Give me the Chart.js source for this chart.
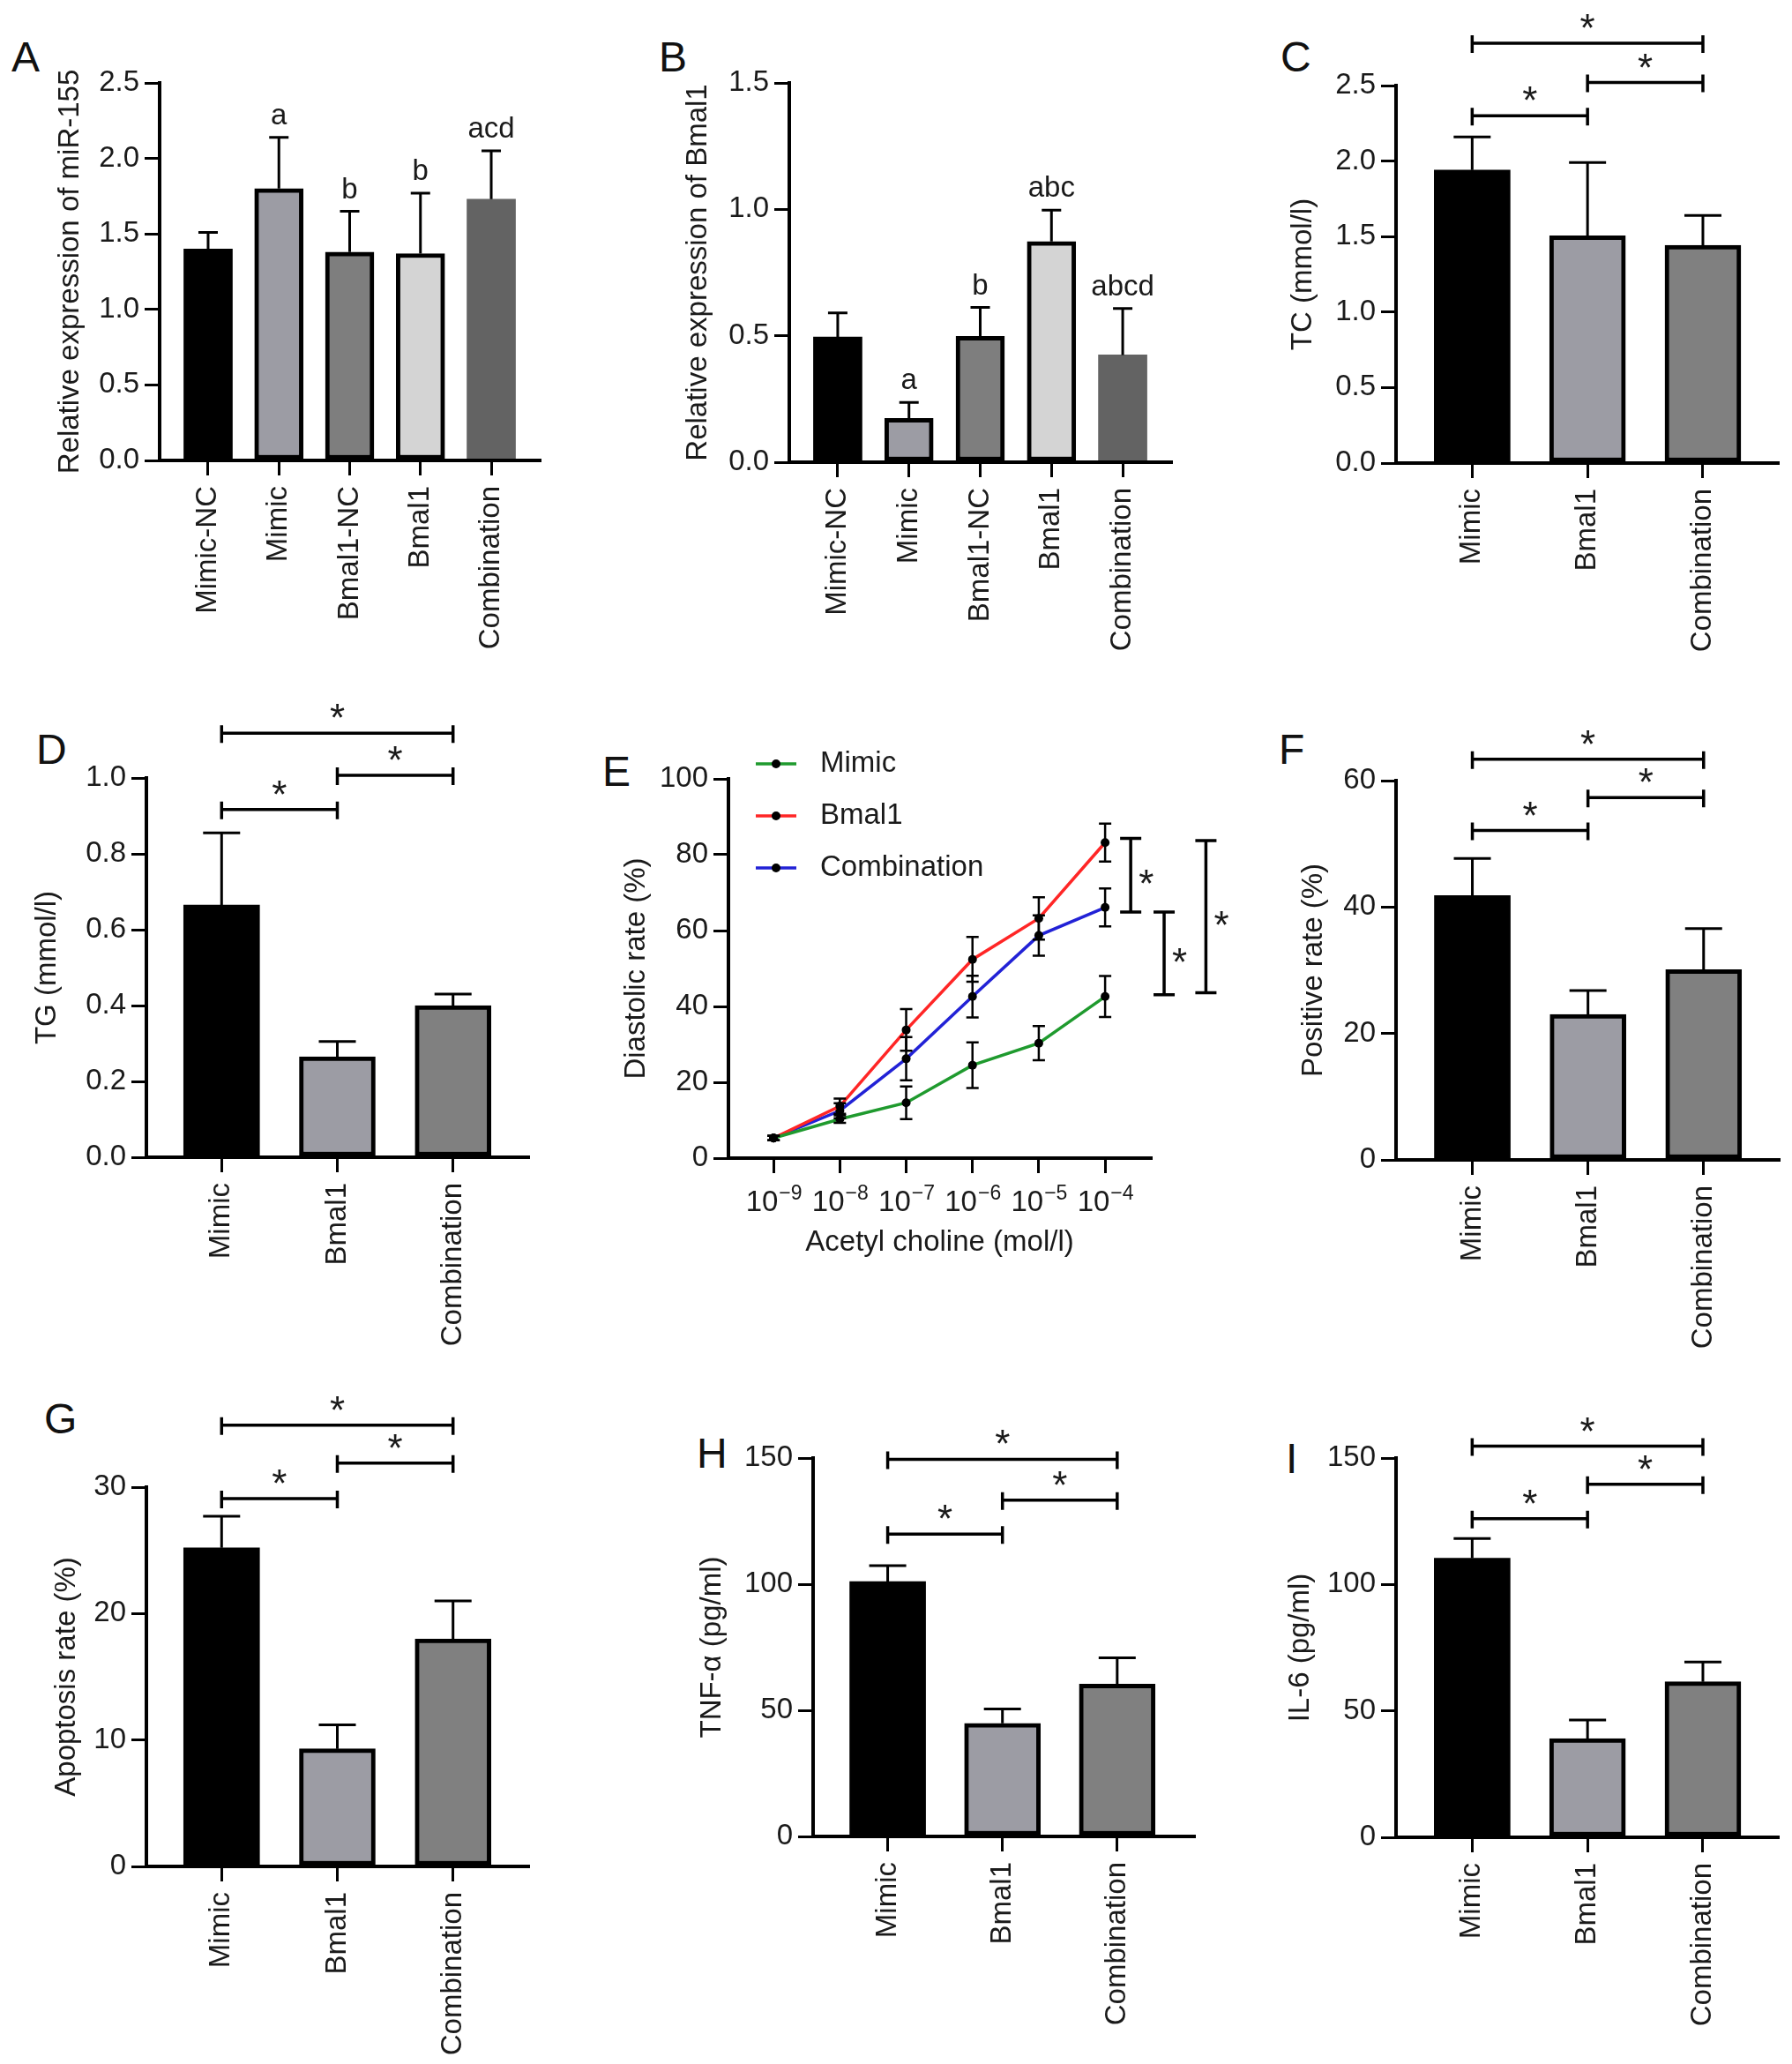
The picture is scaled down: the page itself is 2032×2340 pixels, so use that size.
<!DOCTYPE html>
<html>
<head>
<meta charset="utf-8">
<script src="https://cdn.jsdelivr.net/npm/chart.js@4.4.1/dist/chart.umd.min.js"></script>
<style>
html,body{margin:0;padding:0;background:#fff;}
#page{position:relative;width:2032px;height:2340px;overflow:hidden;background:#fff;}
#page canvas{position:absolute;}
.lt{position:absolute;font-family:'Liberation Sans',Arial,Helvetica,sans-serif;font-size:48px;line-height:48px;color:#111;white-space:nowrap;}
</style>
</head>
<body>
<div id="page"></div>
<script>
// ---------------- DATA ----------------
const groups5 = ["Mimic-NC", "Mimic", "Bmal1-NC", "Bmal1", "Combination"];
const groups3 = ["Mimic", "Bmal1", "Combination"];
const doseLabels = ["10\u207B\u2079", "10\u207B\u2078", "10\u207B\u2077", "10\u207B\u2076", "10\u207B\u2075", "10\u207B\u2074"];
const seriesNames = ["Mimic", "Bmal1", "Combination"];

// A: relative expression of miR-155 (mean, mean+SD, letters)
const mir155Mean  = [1.40, 1.80, 1.38, 1.37, 1.73];
const mir155Upper = [1.51, 2.14, 1.65, 1.77, 2.05];
const mir155Marks = ["", "a", "b", "b", "acd"];
// B: relative expression of Bmal1
const bmal1ExpMean  = [0.495, 0.173, 0.498, 0.873, 0.424];
const bmal1ExpUpper = [0.59, 0.236, 0.612, 0.997, 0.608];
const bmal1ExpMarks = ["", "a", "b", "abc", "abcd"];
// C: TC (mmol/l)
const tcMean  = [1.94, 1.505, 1.443];
const tcUpper = [2.16, 1.99, 1.64];
const tcSig   = [[0, 1, 2.30], [1, 2, 2.52], [0, 2, 2.78]];
// D: TG (mmol/l)
const tgMean  = [0.665, 0.265, 0.40];
const tgUpper = [0.855, 0.305, 0.43];
const tgSig   = [[0, 1, 0.917], [1, 2, 1.007], [0, 2, 1.118]];
// E: diastolic rate (%) vs acetyl choline
const mimicRate = [5.3, 10.3, 14.6, 24.5, 30.3, 42.6];
const mimicSD   = [0.6, 1.0, 4.3, 6.0, 4.5, 5.4];
const bmal1Rate = [5.3, 13.7, 33.8, 52.4, 63.2, 83.2];
const bmal1SD   = [0.6, 2.0, 5.5, 5.9, 5.6, 5.0];
const combRate  = [5.3, 12.5, 26.2, 42.6, 58.7, 66.1];
const combSD    = [0.6, 2.0, 5.7, 5.5, 5.3, 5.0];
const rateSig   = [[84.3, 64.9], [64.9, 43.1], [83.7, 43.6]];
// F: positive rate (%)
const posMean  = [41.8, 23.0, 30.1];
const posUpper = [47.7, 26.8, 36.6];
const posSig   = [[0, 1, 52.1], [1, 2, 57.3], [0, 2, 63.4]];
// G: apoptosis rate (%)
const apoMean  = [25.2, 9.3, 18.0];
const apoUpper = [27.7, 11.2, 21.0];
const apoSig   = [[0, 1, 29.1], [1, 2, 31.9], [0, 2, 34.9]];
// H: TNF-α (pg/ml)
const tnfMean  = [101, 44.8, 60.4];
const tnfUpper = [107.3, 50.5, 70.8];
const tnfSig   = [[0, 1, 119.8], [1, 2, 133.3], [0, 2, 149.5]];
// I: IL-6 (pg/ml)
const il6Mean  = [110.4, 39.0, 61.5];
const il6Upper = [118.2, 46.4, 69.3];
const il6Sig   = [[0, 1, 126.0], [1, 2, 139.6], [0, 2, 154.7]];

// ---------------- STYLE / LAYOUT ----------------
const TXT = '#1a1a1a';
const FONT = "'Liberation Sans', Arial, Helvetica, sans-serif";
const FS = 33;
const TITLE_LH = FS * 1.2;
Chart.defaults.font.family = FONT;
Chart.defaults.font.size = FS;
Chart.defaults.color = TXT;
Chart.defaults.animation = false;
Chart.defaults.plugins.legend.display = false;
Chart.defaults.plugins.tooltip.enabled = false;

const fills5 = ['#000000', '#9c9ca4', '#7e7e7e', '#d4d4d4', '#636363'];
const borders5 = [0, 5, 5, 5, 0];
const fills3 = ['#000000', '#9c9ca4', '#808080'];
const borders3 = [0, 5, 5];
const lineColors = ['#1f9a2e', '#ff2626', '#2222d6'];

const LAY = {
  A: {L:181, T:94,  R:612,  B:522,  titleX:80,   padTop:30,  padRight:30,  xAxisH:230, xMin:-0.685, xMax:4.685},
  B: {L:895, T:94,  R:1328, B:524,  titleX:792,  padTop:30,  padRight:30,  xAxisH:230, xMin:-0.68,  xMax:4.68},
  C: {L:1583,T:97,  R:2016, B:525,  titleX:1478, padTop:92,  padRight:14,  xAxisH:230, xMin:-0.66,  xMax:2.65},
  D: {L:166, T:882, R:599,  B:1312, titleX:54,   padTop:100, padRight:30,  xAxisH:230, xMin:-0.65,  xMax:2.65},
  E: {L:826, T:883, R:1305, B:1313, titleX:722,  padTop:40,  padRight:110, xAxisH:116, xMin:-0.68,  xMax:5.69},
  F: {L:1583,T:885, R:2017, B:1315, titleX:1490, padTop:70,  padRight:14,  xAxisH:230, xMin:-0.66,  xMax:2.65},
  G: {L:166, T:1686,R:599,  B:2116, titleX:76,   padTop:110, padRight:30,  xAxisH:220, xMin:-0.65,  xMax:2.65},
  H: {L:922, T:1653,R:1354, B:2082, titleX:808,  padTop:60,  padRight:30,  xAxisH:230, xMin:-0.65,  xMax:2.67},
  I: {L:1583,T:1653,R:2016, B:2083, titleX:1475, padTop:60,  padRight:14,  xAxisH:230, xMin:-0.66,  xMax:2.65}
};
const LETTERS = [
  ['A', 13, 47], ['B', 747, 47], ['C', 1452, 47],
  ['D', 41, 832], ['E', 683, 857], ['F', 1450, 832],
  ['G', 50, 1591], ['H', 790, 1630], ['I', 1458, 1636]
];

const page = document.getElementById('page');
LETTERS.forEach(([t, x, capTop]) => {
  const d = document.createElement('div');
  d.className = 'lt'; d.textContent = t;
  d.style.left = x + 'px'; d.style.top = (capTop - 6) + 'px';
  page.appendChild(d);
});

function makeCanvas(key, lay) {
  const left = Math.round(lay.titleX - TITLE_LH / 2);
  const top = lay.T - lay.padTop;
  const w = Math.round(lay.R + lay.padRight - left);
  const h = Math.round(lay.B + lay.xAxisH - top);
  const c = document.createElement('canvas');
  c.id = 'panel' + key; c.width = w; c.height = h;
  c.style.left = left + 'px'; c.style.top = top + 'px';
  c.style.width = w + 'px'; c.style.height = h + 'px';
  page.appendChild(c);
  return {c, yw: lay.L - left};
}

const gridOpts = {display: true, offset: false, drawOnChartArea: false, drawTicks: true, tickLength: 17, lineWidth: 3, color: '#000'};
const borderOpts = {display: true, color: '#000', width: 4, z: 1};

function baseScales(lay, yw, labels, yMax, yStep, yDec, yTitle, rotate) {
  return {
    x: {
      type: 'linear', min: lay.xMin, max: lay.xMax, offset: false,
      afterBuildTicks: s => { s.ticks = labels.map((_, i) => ({value: i})); },
      afterFit: s => { s.height = lay.xAxisH; },
      ticks: {autoSkip: false, callback: v => labels[v], minRotation: rotate ? 90 : 0, maxRotation: rotate ? 90 : 0, padding: 12, color: TXT, font: {size: FS}},
      grid: Object.assign({}, gridOpts, {color: c => (c.tick && Number.isInteger(c.tick.value)) ? '#000' : 'rgba(0,0,0,0)'}),
      border: borderOpts
    },
    y: {
      min: 0, max: yMax,
      afterFit: s => { s.width = yw; },
      ticks: {stepSize: yStep, callback: v => Number(v).toFixed(yDec), padding: 6, color: TXT, font: {size: FS}},
      grid: gridOpts, border: borderOpts,
      title: {display: true, text: yTitle, color: TXT, font: {size: FS, lineHeight: 1.2}, padding: 0}
    }
  };
}

function drawStar(ctx, x, y, align) {
  ctx.save();
  ctx.fillStyle = TXT;
  ctx.font = `44px ${FONT}`;
  ctx.textAlign = align;
  ctx.textBaseline = 'alphabetic';
  ctx.fillText('*', x, y);
  ctx.restore();
}

function barPanel(key, labels, means, uppers, fills, borderW, barW, capW, yMax, yStep, yDec, yTitle, marks, sig) {
  const lay = LAY[key];
  const {c, yw} = makeCanvas(key, lay);
  const annot = {
    id: 'annot' + key,
    afterDatasetsDraw(chart) {
      const ctx = chart.ctx, xs = chart.scales.x, ys = chart.scales.y;
      const meta = chart.getDatasetMeta(0);
      ctx.save();
      ctx.strokeStyle = '#000'; ctx.lineWidth = 3; ctx.lineCap = 'butt';
      meta.data.forEach((el, i) => {
        const yTop = ys.getPixelForValue(uppers[i]);
        ctx.beginPath();
        ctx.moveTo(el.x, el.y); ctx.lineTo(el.x, yTop);
        ctx.moveTo(el.x - capW / 2, yTop); ctx.lineTo(el.x + capW / 2, yTop);
        ctx.stroke();
        if (marks && marks[i]) {
          ctx.fillStyle = TXT; ctx.font = `${FS}px ${FONT}`;
          ctx.textAlign = 'center'; ctx.textBaseline = 'alphabetic';
          ctx.fillText(marks[i], el.x, yTop - 15);
        }
      });
      if (sig) {
        ctx.lineWidth = 3.5;
        sig.forEach(([a, b, v]) => {
          const x1 = xs.getPixelForValue(a), x2 = xs.getPixelForValue(b), y = ys.getPixelForValue(v);
          ctx.beginPath();
          ctx.moveTo(x1, y); ctx.lineTo(x2, y);
          ctx.moveTo(x1, y - 9); ctx.lineTo(x1, y + 11);
          ctx.moveTo(x2, y - 9); ctx.lineTo(x2, y + 11);
          ctx.stroke();
          drawStar(ctx, (x1 + x2) / 2, y - 2, 'center');
        });
      }
      ctx.restore();
    }
  };
  new Chart(c, {
    type: 'bar',
    data: {datasets: [{
      data: means.map((v, i) => ({x: i, y: v})),
      backgroundColor: fills, borderColor: '#000', borderWidth: borderW,
      borderSkipped: false, barThickness: barW
    }]},
    options: {
      responsive: false, devicePixelRatio: 1,
      layout: {padding: {left: 0, top: lay.padTop, right: lay.padRight, bottom: 0}},
      scales: baseScales(lay, yw, labels, yMax, yStep, yDec, yTitle, true)
    },
    plugins: [annot]
  });
}

const SUP_MAP = {'\u207B': '\u2212', '\u2070': '0', '\u00B9': '1', '\u00B2': '2', '\u00B3': '3', '\u2074': '4', '\u2075': '5', '\u2076': '6', '\u2077': '7', '\u2078': '8', '\u2079': '9'};

function linePanel() {
  const key = 'E', lay = LAY[key];
  const {c, yw} = makeCanvas(key, lay);
  const rates = [mimicRate, bmal1Rate, combRate];
  const sds = [mimicSD, bmal1SD, combSD];
  const sigX = [5.386, 5.89, 6.52];   // bracket positions in x-axis units (layout)
  const extras = {
    id: 'extrasE',
    afterDatasetsDraw(chart) {
      const ctx = chart.ctx, xs = chart.scales.x, ys = chart.scales.y, ca = chart.chartArea;
      ctx.save();
      // error bars
      ctx.strokeStyle = '#000'; ctx.lineWidth = 2.5;
      chart.data.datasets.forEach((ds, d) => {
        const meta = chart.getDatasetMeta(d);
        meta.data.forEach((pt, i) => {
          const v = rates[d][i], s = sds[d][i];
          const yt = ys.getPixelForValue(v + s), yb = ys.getPixelForValue(v - s);
          ctx.beginPath();
          ctx.moveTo(pt.x, yt); ctx.lineTo(pt.x, yb);
          ctx.moveTo(pt.x - 7, yt); ctx.lineTo(pt.x + 7, yt);
          ctx.moveTo(pt.x - 7, yb); ctx.lineTo(pt.x + 7, yb);
          ctx.stroke();
        });
      });
      // significance brackets (vertical)
      ctx.lineWidth = 3.5;
      rateSig.forEach(([a, b], k) => {
        const x = xs.getPixelForValue(sigX[k]);
        const y1 = ys.getPixelForValue(a), y2 = ys.getPixelForValue(b);
        ctx.beginPath();
        ctx.moveTo(x, y1); ctx.lineTo(x, y2);
        ctx.moveTo(x - 12, y1); ctx.lineTo(x + 12, y1);
        ctx.moveTo(x - 12, y2); ctx.lineTo(x + 12, y2);
        ctx.stroke();
        drawStar(ctx, x + 9, (y1 + y2) / 2 + 25, 'left');
      });
      // legend
      const rowOff = [-17, 42, 101];
      chart.data.datasets.forEach((ds, d) => {
        const y = ca.top + rowOff[d];
        ctx.strokeStyle = ds.borderColor; ctx.lineWidth = 3.5;
        ctx.beginPath(); ctx.moveTo(ca.left + 31, y); ctx.lineTo(ca.left + 77, y); ctx.stroke();
        ctx.fillStyle = '#000';
        ctx.beginPath(); ctx.arc(ca.left + 54, y, 5, 0, Math.PI * 2); ctx.fill();
        ctx.fillStyle = TXT; ctx.font = `${FS}px ${FONT}`;
        ctx.textAlign = 'left'; ctx.textBaseline = 'middle';
        ctx.fillText(ds.label, ca.left + 104, y);
      });
      // x tick labels: power-of-ten with raised exponent
      const baseY = ca.bottom + 60;
      xs.ticks.forEach(t => {
        const lbl = doseLabels[t.value];
        const base = lbl.slice(0, 2);
        const exp = Array.from(lbl.slice(2)).map(ch => SUP_MAP[ch] || ch).join('');
        ctx.font = `${FS}px ${FONT}`;
        const wb = ctx.measureText(base).width;
        ctx.font = `23px ${FONT}`;
        const we = ctx.measureText(exp).width;
        const x0 = xs.getPixelForValue(t.value) - (wb + we) / 2;
        ctx.fillStyle = TXT; ctx.textAlign = 'left'; ctx.textBaseline = 'alphabetic';
        ctx.font = `${FS}px ${FONT}`;
        ctx.fillText(base, x0, baseY);
        ctx.font = `23px ${FONT}`;
        ctx.fillText(exp, x0 + wb + 1, baseY - 13);
      });
      ctx.restore();
    }
  };
  const scales = baseScales(lay, yw, doseLabels, 100, 20, 0, 'Diastolic rate (%)', false);
  scales.x.ticks.display = false;
  scales.x.title = {display: true, text: 'Acetyl choline (mol/l)', color: TXT, font: {size: FS, lineHeight: 1.2}, padding: 0};
  new Chart(c, {
    type: 'line',
    data: {datasets: seriesNames.map((n, d) => ({
      label: n,
      data: rates[d].map((v, i) => ({x: i, y: v})),
      borderColor: lineColors[d], borderWidth: 3.5, tension: 0, fill: false,
      pointRadius: 5, pointBackgroundColor: '#000', pointBorderColor: '#000', pointBorderWidth: 0
    }))},
    options: {
      responsive: false, devicePixelRatio: 1,
      layout: {padding: {left: 0, top: lay.padTop, right: lay.padRight, bottom: 0}},
      scales
    },
    plugins: [extras]
  });
}

barPanel('A', groups5, mir155Mean, mir155Upper, fills5, borders5, 55, 22, 2.5, 0.5, 1, 'Relative expression of miR-155', mir155Marks, null);
barPanel('B', groups5, bmal1ExpMean, bmal1ExpUpper, fills5, borders5, 55, 22, 1.5, 0.5, 1, 'Relative expression of Bmal1', bmal1ExpMarks, null);
barPanel('C', groups3, tcMean, tcUpper, fills3, borders3, 86, 42, 2.5, 0.5, 1, 'TC (mmol/l)', null, tcSig);
barPanel('D', groups3, tgMean, tgUpper, fills3, borders3, 86, 42, 1.0, 0.2, 1, 'TG (mmol/l)', null, tgSig);
linePanel();
barPanel('F', groups3, posMean, posUpper, fills3, borders3, 86, 42, 60, 20, 0, 'Positive rate (%)', null, posSig);
barPanel('G', groups3, apoMean, apoUpper, fills3, borders3, 86, 42, 30, 10, 0, 'Apoptosis rate (%)', null, apoSig);
barPanel('H', groups3, tnfMean, tnfUpper, fills3, borders3, 86, 42, 150, 50, 0, 'TNF-\u03B1 (pg/ml)', null, tnfSig);
barPanel('I', groups3, il6Mean, il6Upper, fills3, borders3, 86, 42, 150, 50, 0, 'IL-6 (pg/ml)', null, il6Sig);
</script>
</body>
</html>
